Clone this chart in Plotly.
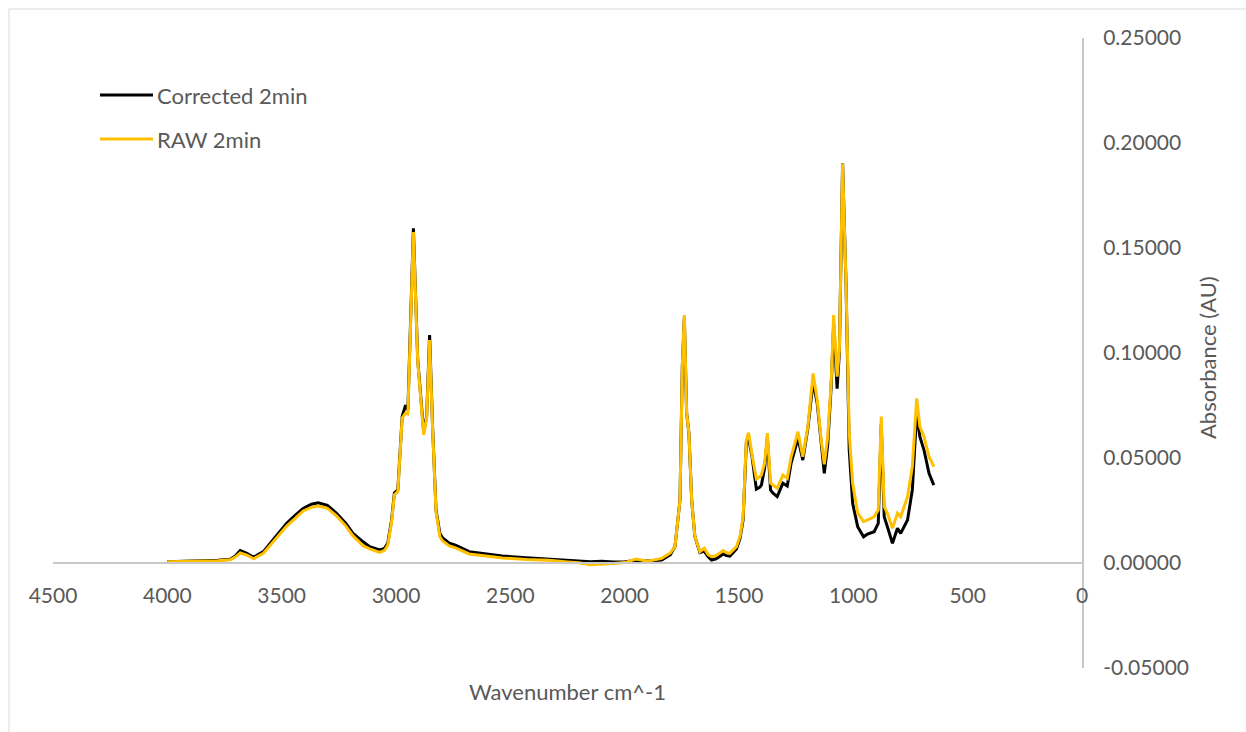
import plotly.graph_objects as go

# FTIR spectra: wavenumber (cm^-1) and absorbance (AU)
wavenumber = [4000, 3900, 3841, 3780, 3725, 3703, 3681, 3652, 3623, 3580, 3530, 3478, 3440, 3406,
              3370, 3340, 3300, 3260, 3220, 3188, 3144, 3115, 3072, 3050, 3036, 3020, 3007, 2992,
              2973, 2958, 2948, 2924, 2905, 2879, 2866, 2853, 2840, 2825, 2808, 2796, 2767, 2740,
              2680, 2600, 2535, 2430, 2331, 2250, 2200, 2150, 2100, 2050, 2000, 1950, 1900, 1838,
              1800, 1780, 1758, 1748, 1739, 1729, 1719, 1707, 1693, 1671, 1652, 1635, 1620, 1600,
              1569, 1555, 1540, 1511, 1495, 1482, 1468, 1458, 1443, 1424, 1410, 1402, 1388, 1376,
              1362, 1351, 1333, 1308, 1289, 1272, 1242, 1221, 1199, 1176, 1158, 1141, 1127, 1112,
              1097, 1086, 1071, 1061, 1047, 1032, 1018, 1003, 981, 955, 938, 909, 891, 878, 865,
              851, 829, 807, 793, 763, 742, 723, 709, 691, 669, 648]

corrected_2min = [0.0006, 0.0008, 0.0010, 0.0013, 0.0018, 0.0033, 0.0059, 0.0046, 0.0027, 0.0054,
                  0.0120, 0.0189, 0.0228, 0.0260, 0.0280, 0.0287, 0.0275, 0.0237, 0.0190, 0.0141,
                  0.0101, 0.0078, 0.0062, 0.0070, 0.0095, 0.0200, 0.0333, 0.0348, 0.0697, 0.0752,
                  0.0729, 0.1594, 0.0967, 0.0624, 0.0697, 0.1086, 0.0649, 0.0252, 0.0140, 0.0119,
                  0.0094, 0.0085, 0.0054, 0.0042, 0.0033, 0.0025, 0.0019, 0.0015, 0.0012, 0.0006,
                  0.0008, 0.0005, 0.0006, 0.0012, 0.0010, 0.0014, 0.0040, 0.0078, 0.0300, 0.0935,
                  0.1167, 0.0713, 0.0618, 0.0300, 0.0125, 0.0050, 0.0057, 0.0030, 0.0014, 0.0020,
                  0.0043, 0.0035, 0.0033, 0.0067, 0.0120, 0.0205, 0.0570, 0.0594, 0.0506, 0.0352,
                  0.0360, 0.0371, 0.0452, 0.0598, 0.0348, 0.0332, 0.0316, 0.0380, 0.0367, 0.0476,
                  0.0594, 0.0490, 0.0640, 0.0863, 0.0760, 0.0560, 0.0427, 0.0562, 0.0840, 0.1140,
                  0.0830, 0.1000, 0.1903, 0.1332, 0.0538, 0.0284, 0.0173, 0.0125, 0.0138, 0.0149,
                  0.0189, 0.0660, 0.0220, 0.0173, 0.0094, 0.0165, 0.0141, 0.0205, 0.0348, 0.0713,
                  0.0602, 0.0538, 0.0427, 0.0371]

raw_2min = [0.0006, 0.0007, 0.0009, 0.0011, 0.0015, 0.0028, 0.0048, 0.0038, 0.0020, 0.0046,
            0.0110, 0.0176, 0.0214, 0.0248, 0.0265, 0.0271, 0.0260, 0.0224, 0.0177, 0.0129,
            0.0082, 0.0067, 0.0050, 0.0060, 0.0086, 0.0190, 0.0325, 0.0340, 0.0690, 0.0714,
            0.0710, 0.1576, 0.0960, 0.0610, 0.0690, 0.1062, 0.0640, 0.0245, 0.0125, 0.0105,
            0.0081, 0.0072, 0.0043, 0.0032, 0.0024, 0.0017, 0.0013, 0.0005, 0.0001, -0.0008,
            -0.0006, -0.0002, 0.0002, 0.0019, 0.0008, 0.0022, 0.0048, 0.0078, 0.0300, 0.0935,
            0.1181, 0.0713, 0.0618, 0.0300, 0.0125, 0.0054, 0.0070, 0.0040, 0.0030, 0.0035,
            0.0059, 0.0050, 0.0046, 0.0078, 0.0130, 0.0220, 0.0586, 0.0620, 0.0514, 0.0400,
            0.0410, 0.0419, 0.0475, 0.0618, 0.0380, 0.0371, 0.0356, 0.0419, 0.0403, 0.0506,
            0.0625, 0.0506, 0.0649, 0.0903, 0.0776, 0.0590, 0.0470, 0.0602, 0.0857, 0.1181,
            0.0887, 0.1014, 0.1903, 0.1332, 0.0618, 0.0380, 0.0237, 0.0197, 0.0205, 0.0220,
            0.0252, 0.0697, 0.0268, 0.0237, 0.0165, 0.0237, 0.0220, 0.0316, 0.0459, 0.0784,
            0.0649, 0.0602, 0.0506, 0.0459]

x_ticks = [4500, 4000, 3500, 3000, 2500, 2000, 1500, 1000, 500, 0]
y_ticks = [-0.05, 0.0, 0.05, 0.10, 0.15, 0.20, 0.25]
y_tick_labels = ["-0.05000", "0.00000", "0.05000", "0.10000", "0.15000", "0.20000", "0.25000"]

series_names = ["Corrected 2min", "RAW 2min"]
series_colors = ["#000000", "#FFC000"]

FONT = "Lato"
TEXT = "#595959"
AXIS = "#C8C8C8"

fig = go.Figure()
for name, vals, color in zip(series_names, [corrected_2min, raw_2min], series_colors):
    fig.add_trace(go.Scatter(x=wavenumber, y=vals, mode="lines", name=name,
                             line=dict(color=color, width=3), showlegend=False))

# plot area in pixels: x 53..1082, y 38..668
W, H = 1246, 732
L, R, T, B = 53, 1082, 38, 668
pw, ph = R - L, B - T

def px(x):
    return (x - L) / pw

def py(y):
    return (B - y) / ph

shapes = [
    # chart frame
    dict(type="line", xref="paper", yref="paper", x0=px(9), x1=px(9), y0=py(9), y1=py(H + 10),
         line=dict(color="#D9D9D9", width=1)),
    dict(type="line", xref="paper", yref="paper", x0=px(9), x1=px(W + 10), y0=py(9), y1=py(9),
         line=dict(color="#D9D9D9", width=1)),
]
annotations = []
# legend entries
for i, (name, color) in enumerate(zip(series_names, series_colors)):
    yy = 95 + 44 * i
    shapes.append(dict(type="line", xref="paper", yref="paper", x0=px(100), x1=px(153),
                       y0=py(yy), y1=py(yy), line=dict(color=color, width=3)))
    annotations.append(dict(text=name, xref="paper", yref="paper", x=px(155), y=py(yy),
                            xanchor="left", yanchor="middle", showarrow=False,
                            font=dict(family=FONT, size=22, color=TEXT)))

annotations.append(dict(text="Wavenumber cm^-1", xref="paper", yref="paper", x=px(567), y=py(691),
                        xanchor="center", yanchor="middle", showarrow=False,
                        font=dict(family=FONT, size=22, color=TEXT)))
annotations.append(dict(text="Absorbance (AU)", xref="paper", yref="paper", x=px(1207), y=py(358),
                        xanchor="center", yanchor="middle", textangle=-90, showarrow=False,
                        font=dict(family=FONT, size=22, color=TEXT)))

fig.update_layout(
    width=W, height=H,
    margin=dict(l=L, r=W - R, t=T, b=H - B, pad=0),
    paper_bgcolor="white", plot_bgcolor="white",
    showlegend=False,
    shapes=shapes,
    annotations=annotations,
    xaxis=dict(range=[4500, 0], tickvals=x_ticks, ticktext=[str(v) for v in x_ticks],
               anchor="free", position=1 / 6, showgrid=False, zeroline=False,
               showline=True, linecolor=AXIS, linewidth=2, ticks="",
               tickfont=dict(family=FONT, size=21, color=TEXT), ticklabelstandoff=14),
    yaxis=dict(range=[-0.05, 0.25], tickvals=y_ticks, ticktext=y_tick_labels, side="right",
               showgrid=False, zeroline=False, showline=True, linecolor=AXIS, linewidth=2,
               ticks="", tickfont=dict(family=FONT, size=21, color=TEXT), ticklabelstandoff=15),
    font=dict(family=FONT, color=TEXT),
)

fig.write_html("out.html")
